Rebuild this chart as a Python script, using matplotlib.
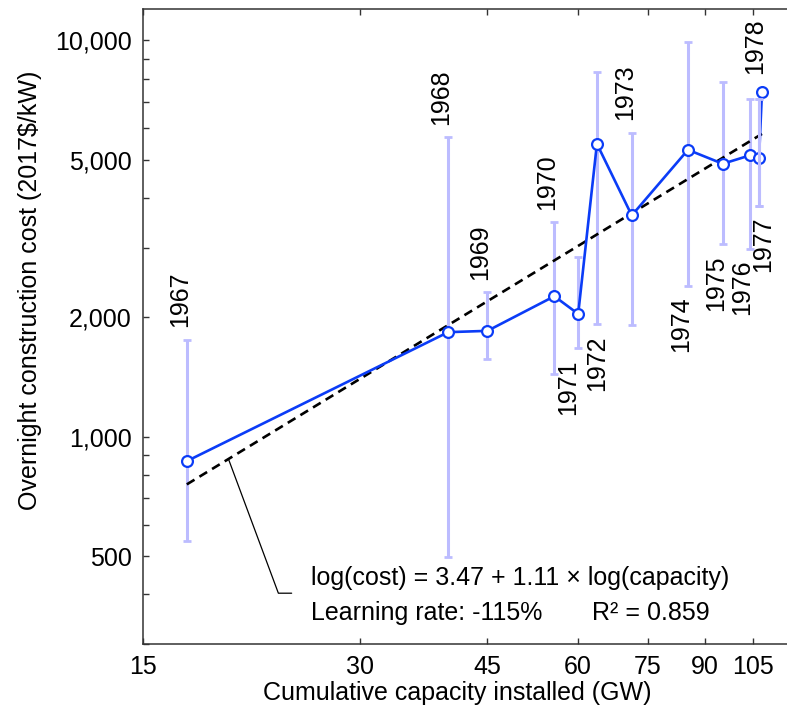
import numpy as np
import matplotlib
matplotlib.use("Agg")
import matplotlib.pyplot as plt
from matplotlib.ticker import FixedLocator, NullLocator, FixedFormatter

plt.rcParams['font.family'] = ['Liberation Sans', 'DejaVu Sans']

# Reactor completion years with cumulative capacity and overnight cost
years = [1967, 1968, 1969, 1970, 1971, 1972, 1973, 1974, 1975, 1976, 1977, 1978]
capacity_gw = [17.25, 39.7, 45.0, 55.7, 60.1, 63.8, 71.3, 85.3, 95.3, 103.8, 107.0, 108.0]
cost = [868, 1836, 1850, 2262, 2041, 5483, 3617, 5296, 4883, 5124, 5056, 7404]
cost_low = [546, 496, 1571, 1440, 1675, 1925, 1914, 2404, 3066, 2979, 3831, np.nan]
cost_high = [1758, 5702, 2314, 3475, 2838, 8318, 5843, 9900, 7870, 7124, 7100, np.nan]
label_side = ['above', 'above', 'above', 'above', 'below', 'below',
              'above', 'below', 'below', 'below', 'below', 'above']

# Fitted experience curve: ln(cost) = a + b * ln(capacity)
fit_a = 3.47
fit_b = 1.11
learning_rate_pct = -115
r_squared = 0.859

x_ticks = [15, 30, 45, 60, 75, 90, 105]
y_major = [500, 1000, 2000, 5000, 10000]
y_major_labels = ['500', '1,000', '2,000', '5,000', '10,000']
y_minor = [300, 400, 600, 700, 800, 900, 3000, 4000, 6000, 7000, 8000, 9000]

BLUE = '#0b3cf7'
BAR = '#bcbcff'
FS = 18

fig = plt.figure(figsize=(7.87, 7.09), dpi=100)
ax = fig.add_axes([143 / 787, 65 / 709, 652 / 787, 635 / 709])
ax.set_xscale('log')
ax.set_yscale('log')
ax.set_xlim(15, 120)
ax.set_ylim(300, 12000)

cap = np.array(capacity_gw)
c = np.array(cost)
lo = np.array(cost_low)
hi = np.array(cost_high)

# error bars behind the series
has_bar = ~np.isnan(lo)
ax.errorbar(cap[has_bar], c[has_bar],
            yerr=[c[has_bar] - lo[has_bar], hi[has_bar] - c[has_bar]],
            fmt='none', ecolor=BAR, elinewidth=2.2, capsize=3.2, capthick=2.0, zorder=1)

# fitted curve over the data range
xf = np.geomspace(cap.min(), cap.max(), 200)
yf = np.exp(fit_a + fit_b * np.log(xf))
ax.plot(xf, yf, color='black', lw=1.9, linestyle=(0, (3.4, 2.2)), zorder=2)

ax.plot(cap, c, color=BLUE, lw=1.9, marker='o', markersize=7.8,
        markerfacecolor='white', markeredgecolor=BLUE, markeredgewidth=1.6, zorder=3)

# the last bar sits over the neighbouring marker
last = np.where(has_bar)[0][-1]
ax.errorbar([cap[last]], [c[last]], yerr=[[c[last] - lo[last]], [hi[last] - c[last]]],
            fmt='none', ecolor=BAR, elinewidth=2.2, capsize=3.2, capthick=2.0, zorder=4)

# year labels next to each bar
nudge = {1971: -2, 1972: 5, 1977: 8}
for yr, x, y, l, h, side in zip(years, cap, c, lo, hi, label_side):
    dx = -5 + nudge.get(yr, 0)
    if side == 'above':
        anchor = h if not np.isnan(h) else y * 1.035
        ax.annotate(str(yr), xy=(x, anchor), xytext=(dx, 9), textcoords='offset points',
                    rotation=90, ha='center', va='bottom', fontsize=FS, zorder=5)
    else:
        ax.annotate(str(yr), xy=(x, l), xytext=(dx, -8), textcoords='offset points',
                    rotation=90, ha='center', va='top', fontsize=FS, zorder=5)

# equation box with leader to the fitted line
x_lead = 19.7
ax.annotate('', xy=(x_lead, np.exp(fit_a + fit_b * np.log(x_lead))),
            xytext=(0.228, 0.080), textcoords='axes fraction',
            arrowprops=dict(arrowstyle='-', color='black', lw=0.9, shrinkA=0, shrinkB=0,
                            connectionstyle='angle,angleA=0,angleB=-69.6,rad=0'))
ax.text(0.2577, 0.104, f'log(cost) = {fit_a:.2f} + {fit_b:.2f} \u00d7 log(capacity)',
        transform=ax.transAxes, fontsize=FS, ha='left', va='center')
ax.text(0.2577, 0.049, f'Learning rate: {learning_rate_pct}%',
        transform=ax.transAxes, fontsize=FS, ha='left', va='center')
ax.text(0.688, 0.049, f'R\u00b2 = {r_squared:.3f}',
        transform=ax.transAxes, fontsize=FS, ha='left', va='center')

# axes styling
ax.xaxis.set_major_locator(FixedLocator(x_ticks))
ax.xaxis.set_major_formatter(FixedFormatter([str(v) for v in x_ticks]))
ax.xaxis.set_minor_locator(NullLocator())
ax.yaxis.set_major_locator(FixedLocator(y_major))
ax.yaxis.set_major_formatter(FixedFormatter(y_major_labels))
ax.yaxis.set_minor_locator(FixedLocator(y_minor))
ax.tick_params(which='both', direction='in', top=True, right=True,
               length=4.5, width=1.0, color='#333333', labelsize=FS, pad=8)
for s in ax.spines.values():
    s.set_color('#333333')
    s.set_linewidth(1.1)

ax.set_xlabel('Cumulative capacity installed (GW)', fontsize=FS)
ax.set_ylabel('Overnight construction cost (2017$/kW)', fontsize=FS)
ax.xaxis.set_label_coords(0.4813, -0.058)
ax.yaxis.set_label_coords(-0.155, 0.5575)

fig.savefig('out.png', dpi=100)
